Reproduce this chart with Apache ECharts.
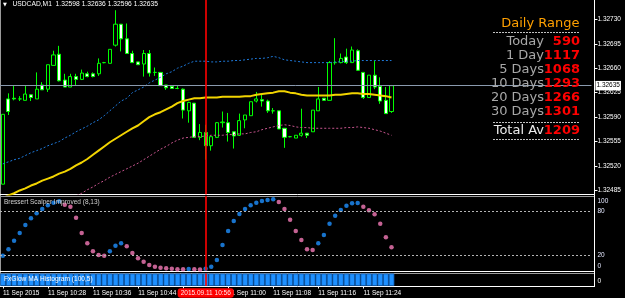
<!DOCTYPE html>
<html>
<head>
<meta charset="utf-8">
<title>USDCAD,M1</title>
<script src="https://cdn.jsdelivr.net/npm/echarts@6/dist/echarts.min.js"></script>
<style>
html, body { margin: 0; padding: 0; background: #000; }
#chart { width: 625px; height: 298px; }
</style>
</head>
<body>
<div id="chart"></div>
<script>
var symbolName = 'USDCAD,M1';
var slotCount = 105; // bar slots across the window

// open, close, low, high  (M1 bars from 10:20)
var candles = [
    [1.32494, 1.32594, 1.32494, 1.32594],
    [1.32616, 1.32598, 1.32593, 1.32624],
    [1.32617, 1.32616, 1.32614, 1.32635],
    [1.32616, 1.32616, 1.32613, 1.32620],
    [1.32614, 1.32623, 1.32614, 1.32635],
    [1.32622, 1.32618, 1.32613, 1.32622],
    [1.32616, 1.32630, 1.32616, 1.32654],
    [1.32636, 1.32629, 1.32629, 1.32640],
    [1.32630, 1.32665, 1.32626, 1.32665],
    [1.32664, 1.32679, 1.32664, 1.32685],
    [1.32680, 1.32642, 1.32641, 1.32692],
    [1.32643, 1.32633, 1.32633, 1.32652],
    [1.32633, 1.32648, 1.32633, 1.32652],
    [1.32648, 1.32644, 1.32635, 1.32652],
    [1.32644, 1.32653, 1.32643, 1.32658],
    [1.32652, 1.32648, 1.32647, 1.32655],
    [1.32652, 1.32648, 1.32647, 1.32654],
    [1.32652, 1.32667, 1.32649, 1.32674],
    [1.32668, 1.32668, 1.32667, 1.32669],
    [1.32667, 1.32687, 1.32667, 1.32687],
    [1.32693, 1.32723, 1.32691, 1.32743],
    [1.32723, 1.32702, 1.32684, 1.32723],
    [1.32702, 1.32681, 1.32681, 1.32724],
    [1.32681, 1.32668, 1.32668, 1.32685],
    [1.32669, 1.32665, 1.32665, 1.32669],
    [1.32666, 1.32681, 1.32648, 1.32686],
    [1.32681, 1.32653, 1.32648, 1.32686],
    [1.32654, 1.32654, 1.32649, 1.32661],
    [1.32654, 1.32635, 1.32635, 1.32654],
    [1.32636, 1.32632, 1.32629, 1.32636],
    [1.32634, 1.32631, 1.32631, 1.32634],
    [1.32631, 1.32631, 1.32630, 1.32635],
    [1.32630, 1.32600, 1.32588, 1.32631],
    [1.32599, 1.32611, 1.32582, 1.32612],
    [1.32610, 1.32561, 1.32561, 1.32610],
    [1.32561, 1.32568, 1.32557, 1.32580],
    [1.32568, 1.32549, 1.32529, 1.32579],
    [1.32549, 1.32562, 1.32542, 1.32563],
    [1.32561, 1.32582, 1.32560, 1.32583],
    [1.32582, 1.32583, 1.32575, 1.32598],
    [1.32582, 1.32568, 1.32555, 1.32596],
    [1.32569, 1.32563, 1.32545, 1.32569],
    [1.32564, 1.32585, 1.32563, 1.32595],
    [1.32586, 1.32593, 1.32574, 1.32593],
    [1.32592, 1.32612, 1.32592, 1.32612],
    [1.32613, 1.32616, 1.32611, 1.32626],
    [1.32615, 1.32613, 1.32605, 1.32622],
    [1.32613, 1.32599, 1.32596, 1.32615],
    [1.32599, 1.32599, 1.32595, 1.32603],
    [1.32599, 1.32573, 1.32573, 1.32599],
    [1.32574, 1.32561, 1.32546, 1.32574],
    [1.32562, 1.32562, 1.32561, 1.32563],
    [1.32560, 1.32564, 1.32560, 1.32564],
    [1.32564, 1.32567, 1.32562, 1.32602],
    [1.32567, 1.32564, 1.32560, 1.32567],
    [1.32569, 1.32600, 1.32569, 1.32600],
    [1.32599, 1.32616, 1.32599, 1.32633],
    [1.32617, 1.32614, 1.32614, 1.32617],
    [1.32614, 1.32668, 1.32614, 1.32670],
    [1.32668, 1.32668, 1.32665, 1.32703],
    [1.32668, 1.32674, 1.32667, 1.32681],
    [1.32676, 1.32668, 1.32666, 1.32688],
    [1.32668, 1.32686, 1.32668, 1.32691],
    [1.32685, 1.32657, 1.32656, 1.32687],
    [1.32654, 1.32618, 1.32616, 1.32654],
    [1.32618, 1.32650, 1.32618, 1.32650],
    [1.32650, 1.32633, 1.32630, 1.32671],
    [1.32634, 1.32613, 1.32609, 1.32647],
    [1.32614, 1.32595, 1.32595, 1.32633],
    [1.32598, 1.32635, 1.32596, 1.32636]
];

// moving average (yellow)
var maLine = [
    1.32474, 1.32478, 1.32481, 1.32485, 1.32488, 1.32492, 1.32495, 1.32499, 1.32502, 1.32505,
    1.32509, 1.32512, 1.32516, 1.32521, 1.32525, 1.32530, 1.32536, 1.32542, 1.32548, 1.32554,
    1.32559, 1.32564, 1.32569, 1.32574, 1.32578, 1.32584, 1.32590, 1.32594, 1.32597, 1.32601,
    1.32605, 1.32610, 1.32613, 1.32615, 1.32617, 1.32617, 1.32618, 1.32618, 1.32618, 1.32619,
    1.32619, 1.32619, 1.32619, 1.32620, 1.32620, 1.32622, 1.32623, 1.32624, 1.32625, 1.32627,
    1.32627, 1.32625, 1.32624, 1.32622, 1.32621, 1.32621, 1.32621, 1.32621, 1.32621, 1.32622,
    1.32622, 1.32623, 1.32624, 1.32624, 1.32623, 1.32623, 1.32622, 1.32621, 1.32620, 1.32618
];

// upper band (blue dots)
var bandUpper = [
    1.32523, 1.32526, 1.32529, 1.32531, 1.32535, 1.32539, 1.32542, 1.32545, 1.32549, 1.32552,
    1.32555, 1.32560, 1.32564, 1.32569, 1.32573, 1.32577, 1.32582, 1.32586, 1.32592, 1.32599,
    1.32606, 1.32613, 1.32617, 1.32625, 1.32629, 1.32633, 1.32639, 1.32643, 1.32647, 1.32652,
    1.32655, 1.32660, 1.32663, 1.32667, 1.32670, 1.32670, 1.32670, 1.32669, 1.32669, 1.32670,
    1.32670, 1.32671, 1.32671, 1.32672, 1.32673, 1.32674, 1.32674, 1.32675, 1.32677, 1.32675,
    1.32672, 1.32671, 1.32670, 1.32669, 1.32668, 1.32668, 1.32668, 1.32668, 1.32668, 1.32669,
    1.32669, 1.32670, 1.32670, 1.32671, 1.32671, 1.32671, 1.32671, 1.32671, 1.32671, 1.32671
];

// lower band (pink dots)
var bandLower = [
    null, null, null, null, null, null, null, null, null, null,
    1.32464, 1.32468, 1.32473, 1.32477, 1.32481, 1.32486, 1.32490, 1.32495, 1.32499, 1.32504,
    1.32508, 1.32512, 1.32516, 1.32520, 1.32524, 1.32529, 1.32534, 1.32539, 1.32544, 1.32548,
    1.32553, 1.32557, 1.32560, 1.32561, 1.32562, 1.32562, 1.32563, 1.32564, 1.32564, 1.32564,
    1.32565, 1.32565, 1.32566, 1.32566, 1.32568, 1.32569, 1.32572, 1.32574, 1.32576, 1.32578,
    1.32579, 1.32578, 1.32576, 1.32575, 1.32575, 1.32574, 1.32574, 1.32574, 1.32574, 1.32574,
    1.32574, 1.32575, 1.32575, 1.32576, 1.32575, 1.32574, 1.32572, 1.32570, 1.32567, 1.32564
];

// Bressert Scalper Improved (8,13)
var bressert = [
    20.0, 28.6, 40.1, 50.5, 61.2, 70.2, 76.9, 82.7, 87.6, 91.1,
    93.0, 88.5, 85.8, 71.0, 50.5, 36.6, 25.9, 20.9, 20.0, 25.9,
    33.4, 36.6, 32.6, 23.6, 16.5, 12.0, 7.5, 5.3, 3.9, 3.1,
    2.4, 1.9, 1.7, 2.2, 1.8, 1.6, 2.6, 5.3, 14.2, 34.4,
    53.2, 66.6, 76.0, 82.7, 87.6, 91.1, 93.4, 94.8, 95.7, 92.1,
    82.7, 68.3, 53.2, 41.1, 28.6, 27.7, 36.6, 47.8, 63.0, 73.7,
    81.3, 87.1, 90.3, 90.6, 85.8, 80.9, 75.6, 63.0, 44.7, 31.3
];
var bressertLevels = [20, 80];

// FxGlow MA Histogram (100,5)
var fxglow = [
    1, 1, 1, 1, 1, 1, 1, 1, 1, 1,
    1, 1, 1, 1, 1, 1, 1, 1, 1, 1,
    1, 1, 1, 1, 1, 1, 1, 1, 1, 1,
    1, 1, 1, 1, 1, 1, 1, 1, 1, 1,
    1, 1, 1, 1, 1, 1, 1, 1, 1, 1,
    1, 1, 1, 1, 1, 1, 1, 1, 1, 1,
    1, 1, 1, 1, 1, 1, 1, 1, 1, 1
];

var priceTicks = [1.32485, 1.32520, 1.32555, 1.32590, 1.32625, 1.32660, 1.32695, 1.32730];
var tickBars = [0, 8, 16, 24, 32, 40, 48, 56, 64];
var tickLabels = ['11 Sep 2015', '11 Sep 10:28', '11 Sep 10:36', '11 Sep 10:44', '11 Sep 10:52',
    '11 Sep 11:00', '11 Sep 11:08', '11 Sep 11:16', '11 Sep 11:24'];
var cursorBar = 36;
var cursorLabel = '2015.09.11 10:56';

var rangeLabels = ['Today', '1 Day', '5 Days', '10 Days', '20 Days', '30 Days'];
var rangeValues = [590, 1117, 1068, 1293, 1266, 1301];
var totalAv = 1209;

var FONT = 'Liberation Sans';
var slots = [];
for (var s = 0; s < slotCount; s++) slots.push(String(s));

// colour each Bressert dot by direction
var bressertUp = [], bressertDown = [];
for (var i = 0; i < bressert.length; i++) {
    var rising = i === 0 || bressert[i] >= bressert[i - 1];
    bressertUp.push(rising ? bressert[i] : '-');
    bressertDown.push(rising ? '-' : bressert[i]);
}

var last = candles[candles.length - 1];
var headerText = symbolName + '  ' + [last[0], last[3], last[2], last[1]].map(function (v) {
    return v.toFixed(5);
}).join(' ');

// red vertical cursor line, one per window
function cursorLine() {
    return {
        symbol: ['none', 'none'],
        lineStyle: {color: '#ff0000', width: 1.6, type: 'solid', opacity: 1},
        label: {show: false},
        emphasis: {disabled: true},
        data: [{xAxis: cursorBar}]
    };
}

var gridLeft = -1.47, gridWidth = 592.94;

var graphics = [
    // window frames
    {type: 'line', shape: {x1: 0.5, y1: 0, x2: 0.5, y2: 287}, style: {stroke: '#9a9a9a', lineWidth: 1}},
    {type: 'line', shape: {x1: 0, y1: 194.5, x2: 594.5, y2: 194.5}, style: {stroke: '#ffffff', lineWidth: 1}},
    {type: 'line', shape: {x1: 0, y1: 196.5, x2: 594.5, y2: 196.5}, style: {stroke: '#9a9a9a', lineWidth: 1}},
    {type: 'line', shape: {x1: 0, y1: 271.5, x2: 594.5, y2: 271.5}, style: {stroke: '#ffffff', lineWidth: 1}},
    {type: 'line', shape: {x1: 0, y1: 273.5, x2: 594.5, y2: 273.5}, style: {stroke: '#9a9a9a', lineWidth: 1}},
    {type: 'line', shape: {x1: 0, y1: 286.5, x2: 594.5, y2: 286.5}, style: {stroke: '#ffffff', lineWidth: 1}},
    {type: 'line', shape: {x1: 594.5, y1: 0, x2: 594.5, y2: 287}, style: {stroke: '#ffffff', lineWidth: 1}},
    // header
    {type: 'text', x: 3, y: 4.5, z: 20, style: {text: '▼', fill: '#ffffff', font: '5px "DejaVu Sans"', verticalAlign: 'middle'}},
    {type: 'text', x: 12.5, y: 4.5, z: 20, style: {text: headerText, fill: '#ffffff', font: '6.7px "' + FONT + '"', verticalAlign: 'middle'}},
    // indicator names
    {type: 'text', x: 4, y: 202.5, z: 20, style: {text: 'Bressert Scalper Improved (8,13)', fill: '#d0d0d0', font: '6.5px "' + FONT + '"', verticalAlign: 'middle'}},
    {type: 'text', x: 4, y: 279.5, z: 20, style: {text: 'FxGlow MA Histogram (100,5)', fill: '#ffffff', font: '6.6px "' + FONT + '"', verticalAlign: 'middle'}},
    // daily range panel
    {type: 'text', x: 579.5, y: 24, z: 20, style: {text: 'Daily Range', fill: '#ffa000', font: '13px "DejaVu Sans"', align: 'right', verticalAlign: 'middle'}}
];
[32.5, 122.5, 139.5].forEach(function (y) {
    graphics.push({type: 'line', z: 20, shape: {x1: 493, y1: y, x2: 580, y2: y},
        style: {stroke: '#c0c0c0', lineWidth: 1, lineDash: [2, 1]}});
});
rangeLabels.forEach(function (lab, k) {
    var y = 42 + k * 14;
    graphics.push({type: 'text', x: 544, y: y, z: 20, style: {text: lab, fill: '#a8a8a8',
        font: '13px "DejaVu Sans"', align: 'right', verticalAlign: 'middle'}});
    graphics.push({type: 'text', x: 580, y: y, z: 20, style: {text: String(rangeValues[k]), fill: '#ff0000',
        font: 'bold 13px "DejaVu Sans"', align: 'right', verticalAlign: 'middle'}});
});
graphics.push({type: 'text', x: 544, y: 131, z: 20, style: {text: 'Total Av', fill: '#ececec',
    font: '13px "DejaVu Sans"', align: 'right', verticalAlign: 'middle'}});
graphics.push({type: 'text', x: 580, y: 131, z: 20, style: {text: String(totalAv), fill: '#ff0000',
    font: 'bold 13px "DejaVu Sans"', align: 'right', verticalAlign: 'middle'}});

var hiddenX = {
    axisLine: {show: false}, axisTick: {show: false}, axisLabel: {show: false}, splitLine: {show: false}
};

var option = {
    backgroundColor: '#000000',
    animation: false,
    grid: [
        {left: gridLeft, width: gridWidth, top: 0, height: 194.5},
        {left: gridLeft, width: gridWidth, top: 196.1, height: 74.5},
        {left: gridLeft, width: gridWidth, top: 273.5, height: 12.5}
    ],
    xAxis: [
        Object.assign({type: 'category', gridIndex: 0, data: slots, boundaryGap: true}, hiddenX),
        Object.assign({type: 'category', gridIndex: 1, data: slots, boundaryGap: true}, hiddenX),
        {
            type: 'category', gridIndex: 2, data: slots, boundaryGap: true,
            axisPointer: {
                show: true, status: 'show', value: cursorBar, type: 'none', snap: true,
                triggerTooltip: false, handle: {show: false},
                label: {
                    show: true, formatter: cursorLabel, backgroundColor: '#ff0000', color: '#ffe8e8',
                    fontFamily: FONT, fontSize: 6.5, padding: [1.5, 3, 1, 3], margin: 2.3
                }
            },
            axisLine: {show: false},
            splitLine: {show: false},
            axisTick: {
                show: true, alignWithLabel: true, length: 2.5,
                interval: function (idx) { return tickBars.indexOf(idx) >= 0; },
                lineStyle: {color: '#ffffff'}
            },
            axisLabel: {
                show: true, align: 'left', margin: 3.5, color: '#ffffff', fontFamily: FONT, fontSize: 6.5,
                interval: function (idx) { return tickBars.indexOf(idx) >= 0; },
                formatter: function (val, idx) {
                    var k = tickBars.indexOf(Number(val));
                    return k >= 0 ? tickLabels[k] : '';
                }
            }
        }
    ],
    yAxis: [
        {
            type: 'value', gridIndex: 0, position: 'right', offset: 3,
            min: 1.3247920, max: 1.3275763,
            axisLine: {show: false}, splitLine: {show: false},
            axisTick: {show: true, customValues: priceTicks, length: 3, lineStyle: {color: '#ffffff'}},
            axisLabel: {
                customValues: priceTicks, margin: 3, color: '#ffffff', fontFamily: FONT, fontSize: 6.5,
                formatter: function (v) { return v.toFixed(5); }
            }
        },
        {
            type: 'value', gridIndex: 1, position: 'right', offset: 3, min: 0, max: 100,
            axisLine: {show: false}, splitLine: {show: false},
            axisTick: {show: false},
            axisLabel: {
                customValues: [0, 20, 80, 100], margin: 3, color: '#e4e8ff', fontFamily: FONT, fontSize: 6.5,
                showMinLabel: true, showMaxLabel: true,
                formatter: function (v) {
                    if (v === 100) return '{top|100}';
                    if (v === 0) return '{bot|0}';
                    return String(v);
                },
                rich: {
                    top: {padding: [10, 0, 0, 0], fontSize: 6.5, fontFamily: FONT, color: '#e4e8ff'},
                    bot: {padding: [0, 0, 8, 0], fontSize: 6.5, fontFamily: FONT, color: '#e4e8ff'}
                }
            }
        },
        {
            type: 'value', gridIndex: 2, position: 'right', offset: 3, min: 0, max: 1,
            axisLine: {show: false}, splitLine: {show: false},
            axisTick: {show: false},
            axisLabel: {
                customValues: [0, 1], margin: 3, color: '#ffffff', fontFamily: FONT, fontSize: 6.5,
                showMinLabel: true, showMaxLabel: true, hideOverlap: false,
                formatter: function (v) { return v === 1 ? '{top|1}' : '{bot|0}'; },
                rich: {
                    top: {padding: [6, 0, 0, 0], fontSize: 6.5, fontFamily: FONT, color: '#ffffff'},
                    bot: {padding: [0, 0, 10, 0], fontSize: 6.5, fontFamily: FONT, color: '#ffffff'}
                }
            }
        }
    ],
    graphic: graphics,
    series: [
        {
            name: 'USDCAD', type: 'candlestick', xAxisIndex: 0, yAxisIndex: 0,
            data: candles, barWidth: 3.6, z: 2,
            itemStyle: {
                color: '#000000', color0: '#ffffff',
                borderColor: '#00ff00', borderColor0: '#00ff00', borderColorDoji: '#00ff00', borderWidth: 1
            }
        },
        {
            name: 'MA', type: 'line', xAxisIndex: 0, yAxisIndex: 0, data: maLine,
            symbol: 'none', z: 3, silent: true,
            lineStyle: {color: '#f2d400', width: 2},
            markLine: {
                symbol: ['none', 'none'], precision: 5,
                lineStyle: {color: '#8a9aae', width: 1, type: 'solid'},
                emphasis: {disabled: true},
                label: {
                    position: 'end', distance: 4, formatter: last[1].toFixed(5),
                    backgroundColor: '#ffffff', color: '#000000', fontFamily: FONT, fontSize: 6.5,
                    padding: [1.5, 1, 1, 1]
                },
                data: [{yAxis: last[1]}]
            }
        },
        {
            name: 'Upper', type: 'line', xAxisIndex: 0, yAxisIndex: 0, data: bandUpper,
            symbol: 'none', z: 3, silent: true,
            lineStyle: {color: '#1e78d8', width: 1, type: [2, 2]},
            markLine: cursorLine()
        },
        {
            name: 'Lower', type: 'line', xAxisIndex: 0, yAxisIndex: 0, data: bandLower,
            symbol: 'none', z: 3, silent: true, connectNulls: false,
            lineStyle: {color: '#c8558f', width: 1, type: [2, 2]}
        },
        {
            name: 'Bressert up', type: 'scatter', xAxisIndex: 1, yAxisIndex: 1, data: bressertUp,
            symbol: 'circle', symbolSize: 4.5, z: 3, silent: true,
            itemStyle: {color: '#1e90ff'},
            markLine: {
                symbol: ['none', 'none'],
                lineStyle: {color: '#b4b4b4', width: 1, type: [2, 2]},
                label: {show: false},
                emphasis: {disabled: true},
                data: bressertLevels.map(function (v) { return {yAxis: v}; })
            }
        },
        {
            name: 'Bressert down', type: 'scatter', xAxisIndex: 1, yAxisIndex: 1, data: bressertDown,
            symbol: 'circle', symbolSize: 4.5, z: 3, silent: true,
            itemStyle: {color: '#f57ab8'},
            markLine: cursorLine()
        },
        {
            name: 'FxGlow', type: 'bar', xAxisIndex: 2, yAxisIndex: 2, data: fxglow,
            barWidth: '100%', silent: true,
            itemStyle: {color: '#1e90ff', borderColor: '#0f5cb0', borderWidth: 0.8},
            markLine: cursorLine()
        }
    ]
};

var myChart = echarts.init(document.getElementById('chart'));
myChart.setOption(option);
</script>
</body>
</html>
